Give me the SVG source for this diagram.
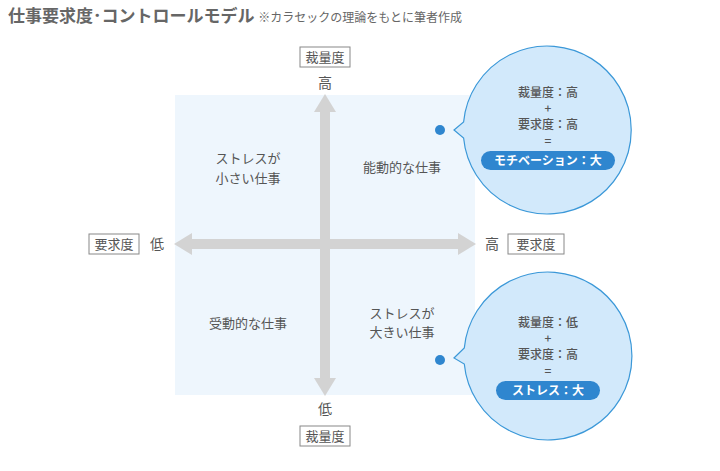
<svg xmlns="http://www.w3.org/2000/svg" width="720" height="471" viewBox="0 0 720 471">
<style>
text{font-family:"Noto Sans CJK JP","Noto Sans",sans-serif;fill:#555}
.q{font-size:13px;text-anchor:middle}
.lb{font-size:13px;text-anchor:middle}
.box{fill:#fff;stroke:#888;stroke-width:1}
.bub{fill:#d2e9fb;stroke:#3b98d8;stroke-width:1.2}
.bt{font-size:12px;text-anchor:middle;fill:#555;font-weight:500}
.pill{fill:#2f86cf}
.pt{font-size:12px;text-anchor:middle;fill:#fff;font-weight:bold}
.dot{fill:#2f86cf}
</style>
<text x="8" y="22" style="font-size:17px;font-weight:bold;fill:#666">仕事要求度･コントロールモデル <tspan style="font-size:12px;font-weight:normal">※カラセックの理論をもとに筆者作成</tspan></text>
<rect x="175" y="95" width="300" height="300" fill="#eef6fd"/>
<g id="connectors" fill="#d3d3d3">
<rect x="320" y="108" width="10" height="274"/>
<polygon points="325,94 336,112 314,112"/>
<polygon points="325,396 336,378 314,378"/>
<rect x="188" y="239" width="274" height="10"/>
<polygon points="174,244 192,233 192,255"/>
<polygon points="476,244 458,233 458,255"/>
</g>
<g id="axis-top"><rect class="box" x="300" y="47" width="50" height="20"/><text class="lb" x="325" y="62">裁量度</text><text class="lb" x="325" y="88" style="font-size:14px">高</text></g>
<g id="axis-bottom"><text class="lb" x="325" y="414" style="font-size:14px">低</text><rect class="box" x="300" y="426" width="50" height="20"/><text class="lb" x="325" y="441">裁量度</text></g>
<g id="axis-left"><rect class="box" x="89" y="234" width="50" height="20"/><text class="lb" x="114" y="249">要求度</text><text class="lb" x="157" y="249" style="font-size:14px">低</text></g>
<g id="axis-right"><text class="lb" x="492" y="249" style="font-size:14px">高</text><rect class="box" x="508" y="234" width="56" height="20"/><text class="lb" x="536" y="249">要求度</text></g>
<g id="q1"><text class="q" x="248" y="163">ストレスが</text><text class="q" x="248" y="183">小さい仕事</text></g>
<g id="q2"><text class="q" x="402" y="172">能動的な仕事</text></g>
<g id="q3"><text class="q" x="248" y="328">受動的な仕事</text></g>
<g id="q4"><text class="q" x="402" y="318">ストレスが</text><text class="q" x="402" y="337">大きい仕事</text></g>
<g id="bubble-top">
<circle class="dot" cx="440" cy="130" r="5"/>
<path class="bub" d="M463.6,122 A84,84 0 1 1 463.6,138 L454,130 Z"/>
<text class="bt" x="548" y="97">裁量度：高</text><text class="bt" x="548" y="113">+</text><text class="bt" x="548" y="129">要求度：高</text><text class="bt" x="548" y="145">=</text>
<rect class="pill" x="481" y="151" width="134" height="19" rx="9.5"/><text class="pt" x="548" y="165">モチベーション：大</text>
</g>
<g id="bubble-bottom">
<circle class="dot" cx="440" cy="360" r="5"/>
<path class="bub" d="M464.3,348 A84,84 0 1 1 464.3,364 L454,358 Z"/>
<text class="bt" x="548" y="327">裁量度：低</text><text class="bt" x="548" y="343">+</text><text class="bt" x="548" y="359">要求度：高</text><text class="bt" x="548" y="375">=</text>
<rect class="pill" x="496" y="381" width="104" height="19" rx="9.5"/><text class="pt" x="548" y="395">ストレス：大</text>
</g>
</svg>
